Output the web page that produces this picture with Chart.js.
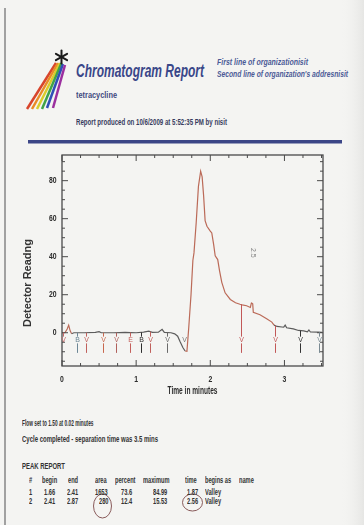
<!DOCTYPE html>
<html>
<head>
<meta charset="utf-8">
<title>Chromatogram Report</title>
<script src="https://cdn.jsdelivr.net/npm/chart.js@4.4.0/dist/chart.umd.min.js"></script>
<style>
  html, body { margin: 0; padding: 0; }
  body {
    width: 364px; height: 525px; overflow: hidden; position: relative;
    background: #f4f4f2;
    font-family: "Liberation Sans", Arial, sans-serif;
  }
  .t { position: absolute; white-space: nowrap; font-weight: bold; line-height: 1; transform-origin: 0 50%; }
  #deco { position: absolute; left: 0; top: 0; pointer-events: none; }
  #plotBox { position: absolute; left: 0; top: 150px; width: 340px; height: 250px; }
</style>
</head>
<body>
<svg id="deco" width="364" height="525" viewBox="0 0 364 525">
  <defs>
    <linearGradient id="edge" x1="0" x2="1" y1="0" y2="0">
      <stop offset="0" stop-color="#f4f4f2" stop-opacity="0"/>
      <stop offset="1" stop-color="#e6e6e4" stop-opacity="1"/>
    </linearGradient>
  </defs>
  <rect x="340" y="0" width="24" height="525" fill="url(#edge)"/>
  <line x1="5" y1="8" x2="5" y2="525" stroke="#8c8c8c" stroke-width="1.6"/>
  <!-- logo: rainbow beams and asterisk -->
  <g stroke-width="2.5" stroke-linecap="butt">
    <line x1="27" y1="109" x2="56" y2="63" stroke="#d8452c"/>
    <line x1="32" y1="109" x2="58" y2="63" stroke="#e98b26"/>
    <line x1="37" y1="109" x2="60" y2="63" stroke="#d9cd2c"/>
    <line x1="42" y1="109" x2="61.5" y2="63" stroke="#40a348"/>
    <line x1="47" y1="108" x2="63" y2="64" stroke="#2f4fb6"/>
    <line x1="53" y1="108" x2="65" y2="65" stroke="#9b2f9f"/>
  </g>
  <g stroke="#1a1a1a" stroke-width="2" stroke-linecap="round">
    <line x1="61.5" y1="50.5" x2="61.5" y2="63.5"/>
    <line x1="55.9" y1="53.8" x2="67.1" y2="60.2"/>
    <line x1="55.9" y1="60.2" x2="67.1" y2="53.8"/>
  </g>
  <rect x="28" y="140" width="314" height="3.5" fill="#3c4687"/>
  <!-- pen marks around two table values -->
  <ellipse cx="102.5" cy="506" rx="9" ry="12" fill="none" stroke="#7d4a4a" stroke-width="0.9"/>
  <ellipse cx="192.5" cy="502.5" rx="10" ry="8.5" fill="none" stroke="#7d4a4a" stroke-width="0.9"/>
</svg>
<div id="plotBox"><canvas id="c"></canvas></div>
<script>
// ---- chromatogram trace (time in minutes, detector reading) ----
const traceTime = [0.00,0.04,0.07,0.09,0.11,0.13,0.16,0.30,0.45,0.50,0.53,0.70,0.85,1.00,1.10,1.17,1.22,1.30,1.35,1.38,1.47,1.52,1.56,1.59,1.63,1.66,1.685,1.71,1.74,1.765,1.78,1.81,1.84,1.87,1.89,1.91,1.93,1.955,2.00,2.02,2.045,2.066,2.10,2.125,2.155,2.20,2.27,2.34,2.40,2.43,2.49,2.54,2.553,2.56,2.572,2.58,2.67,2.76,2.83,2.86,2.90,2.99,3.01,3.03,3.12,3.19,3.26,3.31,3.33,3.35,3.45,3.51];
const traceSignal = [0.0,0.0,2.0,4.0,1.0,-0.5,0.0,0.0,0.2,0.6,0.0,0.0,0.2,0.0,0.3,0.8,0.2,0.3,1.8,0.2,0.0,-0.6,-1.8,-4.5,-7.8,-9.6,-9.8,3.0,20.0,38.0,42.0,58.0,77.0,84.99,82.0,72.0,59.0,56.0,53.5,52.5,46.5,40.5,38.5,32.5,26.5,21.0,17.5,15.8,15.0,14.7,14.2,13.3,15.4,15.53,15.2,10.8,9.5,7.4,5.6,4.0,3.3,2.9,4.0,2.6,2.0,1.2,1.0,0.5,1.5,0.4,0.3,0.2];

// ---- event markers along the baseline ----
const markerTime = [0.01,0.20,0.32,0.55,0.73,0.92,1.06,1.19,1.41,1.65,2.41,2.87,3.21,3.47];
const markerCode = ['V','B','V','V','V','E','B','V','V','V','V','V','V','V'];
const markerStem = [false,true,true,true,true,true,true,true,true,false,true,true,true,true];

// ---- retention label ----
const retentionText = ['2.5'];
const retentionTime = [2.58];
const retentionLevel = [42];

// ---- axes ----
const xTickValues = [0, 1, 2, 3];
const xTickLabels = ['0', '1', '2', '3'];
const yTickValues = [0, 20, 40, 60, 80];
const yTickLabels = ['0', '20', '40', '60', '80'];
const xTitle = 'Time in minutes';
const yTitle = 'Detector Readng';

// ---- peak report ----
const peakNumber = [1, 2];
const peakBegin = [1.66, 2.41];
const peakEnd = [2.41, 2.87];
const peakArea = [1653, 280];
const peakPercent = [73.6, 12.4];
const peakMaximum = [84.99, 15.53];
const peakTime = [1.87, 2.56];
const peakBeginsAs = ['Valley', 'Valley'];

// ---- styles ----
const markerColor = ['#c8686a','#6d8796','#c0605c','#c8684e','#b0605c','#c4605c','#2e2e2e','#c0605c','#6a6a6a','#7a7a7a','#c25858','#c25858','#333333','#7a8a92'];
const peakLineColor = '#bb6a58';
const baseLineColor = '#5c5c5c';
const frameColor = '#4a4a4a';
const labelColor = '#2c2c2c';

// ---- page text (narrow bold face, horizontally condensed) ----
function place(txt, x, cy, fs, o) {
  o = o || {};
  const el = document.createElement('div');
  el.className = 't';
  el.textContent = txt;
  el.style.fontSize = fs + 'px';
  el.style.top = (cy - fs / 2) + 'px';
  el.style.color = o.color || '#333';
  if (o.italic) el.style.fontStyle = 'italic';
  el.style.left = '0px';
  document.body.appendChild(el);
  const natural = el.getBoundingClientRect().width;
  const sx = o.w ? o.w / natural : (o.sx || 0.63);
  let left = x;
  if (o.align === 'right') left = x - natural * sx;
  if (o.align === 'center') left = x - natural * sx / 2;
  el.style.left = left + 'px';
  el.style.width = (natural * sx) + 'px';
  el.style.overflow = 'visible';
  el.style.transformOrigin = '0 50%';
  el.style.transform = 'scaleX(' + sx + ')';
  return el;
}

place('Chromatogram Report', 76, 70.5, 19, { w: 128, italic: true, color: '#3a4789' });
place('First line of organizationisit', 217, 61.5, 9.5, { w: 91, italic: true, color: '#4b5a96' });
place("Second line of organization's addresnisit", 217, 74, 9.5, { w: 131, italic: true, color: '#4b5a96' });
place('tetracycline', 76, 95, 9, { w: 41, color: '#3f4a80' });
place('Report produced on 10/6/2009 at 5:52:35 PM by nisit', 76, 122, 8.5, { w: 151, color: '#383c5e' });

place('Flow set to 1.50 at 0.02 minutes', 21.7, 423.5, 8.5, { w: 71.5 });
place('Cycle completed - separation time was 3.5 mins', 21.7, 439.5, 8.5, { w: 136 });
place('PEAK REPORT', 21.7, 466, 8.5, { w: 43 });

// peak table
const headY = 480.5, rowY = [492, 501.7];
const tableCols = [
  { head: '#',         hx: 29,  vx: 29,  align: 'left',  cell: i => String(peakNumber[i]) },
  { head: 'begin',     hx: 42,  vx: 55,  align: 'right', cell: i => peakBegin[i].toFixed(2) },
  { head: 'end',       hx: 68,  vx: 78,  align: 'right', cell: i => peakEnd[i].toFixed(2) },
  { head: 'area',      hx: 95,  vx: 108, align: 'right', cell: i => String(peakArea[i]) },
  { head: 'percent',   hx: 115, vx: 132, align: 'right', cell: i => peakPercent[i].toFixed(1) },
  { head: 'maximum',   hx: 143, vx: 167, align: 'right', cell: i => peakMaximum[i].toFixed(2) },
  { head: 'time',      hx: 185, vx: 198, align: 'right', cell: i => peakTime[i].toFixed(2) },
  { head: 'begins as', hx: 205, vx: 205, align: 'left',  cell: i => peakBeginsAs[i] },
  { head: 'name',      hx: 239, vx: 239, align: 'left',  cell: i => '' }
];
tableCols.forEach(col => {
  place(col.head, col.hx, headY, 9, { sx: 0.63 });
  peakNumber.forEach((n, i) => {
    const s = col.cell(i);
    if (s) place(s, col.vx, rowY[i], 9, { sx: 0.63, align: col.align });
  });
});

// ---- chart ----
function signalAt(t) {
  for (let i = 0; i < traceTime.length - 1; i++) {
    if (t >= traceTime[i] && t <= traceTime[i + 1]) {
      const f = (t - traceTime[i]) / (traceTime[i + 1] - traceTime[i]);
      return traceSignal[i] + f * (traceSignal[i + 1] - traceSignal[i]);
    }
  }
  return traceSignal[traceSignal.length - 1];
}
const peakStart = Math.min(...peakBegin), peakStop = Math.max(...peakEnd);

// condensed text on the chart canvas
function squishText(ctx, txt, px, py, sx, align) {
  ctx.save();
  ctx.textAlign = align;
  ctx.setTransform(sx, 0, 0, 1, px, py);
  ctx.fillText(txt, 0, 0);
  ctx.restore();
}

// plot frame with inward ticks on all four sides, tick labels and axis titles
const framePlugin = {
  id: 'frame',
  afterDatasetsDraw(chart) {
    const ctx = chart.ctx, a = chart.chartArea, xs = chart.scales.x, ys = chart.scales.y;
    ctx.save();
    ctx.strokeStyle = frameColor;
    ctx.lineWidth = 1.3;
    ctx.strokeRect(a.left, a.top, a.right - a.left, a.bottom - a.top);
    ctx.lineWidth = 1;
    const seg = (x1, y1, x2, y2) => { ctx.beginPath(); ctx.moveTo(x1, y1); ctx.lineTo(x2, y2); ctx.stroke(); };
    for (let k = 0; k * 0.25 <= xs.max + 1e-9; k++) {
      const px = xs.getPixelForValue(k * 0.25);
      const len = (k % 4 === 0) ? 6 : 3;
      seg(px, a.bottom, px, a.bottom - len);
      seg(px, a.top, px, a.top + len);
    }
    for (let k = Math.ceil(ys.min / 5); k * 5 <= ys.max; k++) {
      const py = ys.getPixelForValue(k * 5);
      const len = (k % 4 === 0) ? 6 : 3;
      seg(a.left, py, a.left + len, py);
      seg(a.right, py, a.right - len, py);
    }
    ctx.restore();
  },
  afterDraw(chart) {
    const ctx = chart.ctx, a = chart.chartArea, xs = chart.scales.x, ys = chart.scales.y;
    ctx.save();
    ctx.fillStyle = labelColor;
    ctx.textBaseline = 'middle';
    ctx.font = 'bold 9.5px "Liberation Sans", Arial, sans-serif';
    yTickValues.forEach((v, i) => squishText(ctx, yTickLabels[i], a.left - 5.5, ys.getPixelForValue(v), 0.72, 'right'));
    xTickValues.forEach((v, i) => squishText(ctx, xTickLabels[i], xs.getPixelForValue(v), a.bottom + 13.5, 0.72, 'center'));
    ctx.font = 'bold 11px "Liberation Sans", Arial, sans-serif';
    const wx = ctx.measureText(xTitle).width;
    squishText(ctx, xTitle, (a.left + a.right) / 2, a.bottom + 25, 50 / wx, 'center');
    ctx.save();
    ctx.translate(27.5, 133);
    ctx.rotate(-Math.PI / 2);
    ctx.textAlign = 'center';
    ctx.fillStyle = '#333';
    ctx.fillText(yTitle, 0, 0);
    ctx.restore();
    // retention label
    ctx.font = '7px "Liberation Sans", Arial, sans-serif';
    ctx.fillStyle = '#808080';
    retentionText.forEach((s, i) => {
      ctx.save();
      ctx.translate(xs.getPixelForValue(retentionTime[i]), ys.getPixelForValue(retentionLevel[i]));
      ctx.rotate(Math.PI / 2);
      ctx.textAlign = 'center';
      ctx.fillText(s, 0, 0);
      ctx.restore();
    });
    ctx.restore();
  }
};

// baseline / valley event markers: drop line, code letter, stem
const markerPlugin = {
  id: 'markers',
  afterDatasetsDraw(chart) {
    const ctx = chart.ctx, xs = chart.scales.x, ys = chart.scales.y;
    ctx.save();
    ctx.lineWidth = 1;
    ctx.font = '7px "Liberation Sans", Arial, sans-serif';
    ctx.textAlign = 'center';
    ctx.textBaseline = 'middle';
    const letterY = ys.getPixelForValue(-3.9);
    markerTime.forEach((t, i) => {
      const px = Math.round(xs.getPixelForValue(t)) + 0.5;
      const top = ys.getPixelForValue(signalAt(t));
      ctx.strokeStyle = markerColor[i];
      ctx.fillStyle = markerColor[i];
      if (top < letterY - 3.5) {
        ctx.beginPath(); ctx.moveTo(px, top); ctx.lineTo(px, letterY - 3.5); ctx.stroke();
      }
      ctx.fillText(markerCode[i], px, letterY);
      if (markerStem[i]) {
        ctx.beginPath();
        ctx.moveTo(px, ys.getPixelForValue(-5.6));
        ctx.lineTo(px, ys.getPixelForValue(-10.6));
        ctx.stroke();
      }
    });
    ctx.restore();
  }
};

new Chart(document.getElementById('c'), {
  type: 'line',
  data: {
    datasets: [{
      label: 'Detector reading',
      data: traceTime.map((t, i) => ({ x: t, y: traceSignal[i] })),
      borderWidth: 1.2,
      pointRadius: 0,
      tension: 0,
      fill: false,
      borderColor: baseLineColor,
      segment: {
        borderColor: c => {
          const m = (c.p0.parsed.x + c.p1.parsed.x) / 2;
          return (m >= peakStart && m <= peakStop) || m < 0.14 ? peakLineColor : baseLineColor;
        }
      }
    }]
  },
  options: {
    responsive: true,
    maintainAspectRatio: false,
    animation: false,
    devicePixelRatio: 1,
    layout: { padding: { left: 62, top: 5, right: 17, bottom: 34 } },
    plugins: { legend: { display: false }, tooltip: { enabled: false } },
    scales: {
      x: { type: 'linear', display: false, min: 0, max: 3.52 },
      y: { type: 'linear', display: false, min: -17.5, max: 93.5 }
    }
  },
  plugins: [framePlugin, markerPlugin]
});
</script>
</body>
</html>
